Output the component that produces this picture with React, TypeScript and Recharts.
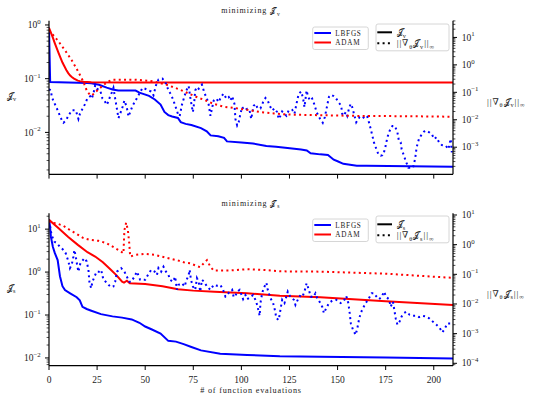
import React from 'react';
import { LineChart, Line, XAxis, YAxis, Legend } from 'recharts';

type P = [number, number];

// ---------- top panel: minimizing J_v ----------
const lbfgsJv: P[] = [[0,0.9],[0.6,0.087],[10,0.085],[20,0.083],[22,0.082],[26,0.077],[30,0.068],[33,0.063],[36,0.06],[45,0.06],[47,0.055],[52,0.048],[55,0.041],[58,0.033],[60,0.024],[62,0.021],[64,0.0198],[67,0.0186],[68.5,0.0155],[71,0.0144],[74,0.0137],[79,0.012],[82,0.0105],[84,0.0088],[88,0.0085],[91,0.0079],[92.5,0.0068],[100,0.0065],[106,0.0062],[113,0.0056],[118,0.0054],[124,0.0051],[131,0.0048],[134,0.0046],[136,0.0041],[141,0.0039],[145,0.0038],[148,0.0031],[150,0.0029],[153,0.0026],[160,0.0024],[165,0.0024],[210,0.0023]];
const adamJv: P[] = [[0,0.88],[1,0.72],[2,0.58],[3,0.46],[4,0.37],[5,0.3],[6,0.245],[7,0.2],[8,0.17],[9,0.145],[10,0.127],[11,0.114],[12,0.106],[13,0.1],[14,0.096],[15,0.092],[16,0.09],[18,0.088],[22,0.086],[40,0.085],[100,0.085],[210,0.085]];
const lbfgsGradJv: P[] = [[0,0.13],[1,0.117],[1.4,0.072],[2.2,0.05],[3.5,0.032],[4.9,0.019],[6.1,0.0115],[7.5,0.0078],[8.7,0.0093],[10.1,0.014],[11.8,0.022],[13.9,0.022],[14.8,0.014],[15.3,0.0107],[16.1,0.0166],[17.4,0.025],[18.8,0.038],[19.9,0.059],[21.4,0.072],[22.2,0.059],[23.1,0.089],[24,0.178],[24.8,0.135],[26.6,0.117],[27.8,0.059],[28.8,0.05],[30,0.035],[30.9,0.047],[31.8,0.072],[32.6,0.098],[33.5,0.145],[34.4,0.059],[35.3,0.025],[36.1,0.0115],[37,0.0166],[38.2,0.029],[39.2,0.05],[40.4,0.029],[41.3,0.0132],[42.2,0.019],[43.4,0.032],[44.8,0.047],[46.5,0.078],[48.6,0.145],[50,0.135],[51.7,0.117],[53.1,0.107],[54.3,0.078],[55.6,0.178],[56.9,0.29],[59,0.316],[60.8,0.21],[62.1,0.117],[63.5,0.081],[64.7,0.05],[66,0.027],[67,0.0166],[67.9,0.0135],[69.1,0.035],[70.3,0.068],[71.4,0.117],[72.6,0.17],[73.4,0.068],[74.3,0.029],[74.8,0.019],[75.5,0.044],[76,0.117],[76.9,0.155],[77.8,0.135],[78.6,0.155],[79.5,0.19],[80.4,0.117],[81.3,0.078],[82.1,0.059],[83,0.036],[83.9,0.014],[84.7,0.025],[85.6,0.05],[87,0.059],[88.2,0.044],[89.4,0.068],[90.8,0.089],[92.2,0.059],[93.4,0.068],[94.3,0.05],[95.2,0.072],[96.4,0.038],[96.9,0.0107],[97.8,0.0062],[98.6,0.0081],[99.5,0.0166],[100.4,0.029],[101.6,0.022],[103,0.025],[104.2,0.023],[105.1,0.0107],[105.6,0.0166],[106.4,0.032],[107.3,0.038],[108.5,0.026],[109.9,0.026],[111.3,0.044],[112.5,0.062],[113.7,0.05],[114.7,0.033],[116,0.022],[117.2,0.026],[118.6,0.019],[119.4,0.0107],[120.3,0.014],[121.2,0.02],[122.4,0.0166],[123.4,0.014],[124.6,0.022],[126.4,0.023],[127.6,0.0166],[129,0.05],[129.8,0.089],[131.1,0.107],[132.1,0.059],[132.8,0.029],[133.9,0.117],[134.5,0.078],[135.6,0.05],[136.8,0.059],[138,0.035],[139.1,0.019],[140.5,0.012],[142.3,0.0078],[143.4,0.0126],[144.6,0.033],[145.5,0.068],[146.7,0.081],[148.1,0.072],[149.3,0.059],[150.4,0.044],[151.6,0.035],[152.1,0.025],[152.4,0.0166],[153.3,0.014],[154.2,0.019],[155,0.014],[155.9,0.025],[156.8,0.038],[157.6,0.029],[158.5,0.0166],[159.7,0.0081],[161.5,0.0126],[162.9,0.0135],[164.2,0.0107],[165.5,0.0126],[166.3,0.0081],[167.2,0.0047],[168.1,0.0026],[168.9,0.0015],[169.8,0.001],[171.2,0.00056],[172.4,0.00049],[173.3,0.00051],[174.1,0.00065],[175,0.00112],[175.9,0.0023],[177.1,0.004],[178.5,0.0059],[179.8,0.0059],[181.1,0.0035],[181.9,0.0017],[182.8,0.0015],[183.3,0.00085],[184.5,0.00049],[185.4,0.00032],[186.8,0.00018],[188,0.00018],[189.2,0.00018],[190.3,0.00037],[191.1,0.001],[192.3,0.002],[193.8,0.003],[194.9,0.0037],[196.2,0.004],[197.6,0.0035],[199,0.003],[200.2,0.002],[201.4,0.0023],[202.8,0.0015],[204.2,0.0012],[206.3,0.00112],[207.6,0.00085],[208.8,0.002],[209.4,0.00065]];
const adamGradJv: P[] = [[0,18],[2,12.6],[4.9,7.2],[8.3,3.4],[11.8,1.48],[15.3,0.55],[17.9,0.24],[19.6,0.117],[21.4,0.078],[22.5,0.079],[24,0.1],[26.6,0.145],[30,0.23],[33,0.29],[44,0.29],[50,0.27],[54,0.25],[61,0.19],[68,0.126],[75,0.076],[78.6,0.06],[80.4,0.054],[85.5,0.038],[90.8,0.03],[97.8,0.026],[103,0.023],[110,0.019],[117,0.017],[124,0.0155],[138,0.0148],[160,0.0138],[185,0.0135],[210,0.0129]];

// ---------- bottom panel: minimizing J_s ----------
const lbfgsJs: P[] = [[0,17],[0.5,12],[1,6.6],[2,3.9],[3,2.8],[4.5,1.9],[5.7,0.8],[7,0.47],[8.3,0.38],[11,0.32],[14.4,0.26],[16,0.22],[17.4,0.155],[19.6,0.138],[22,0.126],[27,0.105],[33,0.093],[38,0.087],[43,0.079],[47,0.066],[50,0.054],[53.5,0.046],[58,0.037],[62,0.025],[66,0.024],[70,0.021],[74,0.018],[79,0.015],[89,0.0126],[103,0.0117],[120,0.011],[141,0.0107],[175,0.0102],[210,0.0097]];
const adamJs: P[] = [[0,16.5],[5,10.5],[10,6.6],[15,4.3],[20,2.9],[24,2.3],[28,1.7],[32,1.15],[35,0.85],[38,0.6],[39,0.57],[40.5,0.63],[42,0.55],[50,0.53],[59,0.47],[67,0.4],[75,0.37],[86,0.35],[103,0.32],[120,0.28],[141,0.26],[175,0.21],[210,0.17]];
const lbfgsGradJs: P[] = [[0,6.3],[0.5,4.6],[1,2.75],[1.7,1.86],[2.8,1.26],[4,1.12],[5.7,0.85],[7.5,0.66],[8.7,0.51],[10.1,0.27],[10.9,0.162],[11.8,0.21],[12.7,0.4],[13.2,0.66],[13.9,0.4],[14.6,0.21],[15.3,0.123],[16.3,0.234],[18.4,0.35],[19.6,0.27],[20.5,0.141],[21,0.056],[21.9,0.034],[22.6,0.056],[23.6,0.083],[24.8,0.123],[26,0.123],[27.1,0.141],[28.3,0.065],[29.5,0.056],[30.9,0.044],[32.3,0.037],[33.5,0.039],[34.4,0.056],[35.3,0.123],[37.5,0.162],[39.2,0.123],[40.5,0.083],[41.7,0.056],[42.7,0.056],[44.4,0.083],[45.7,0.123],[47.4,0.065],[50,0.065],[51.4,0.095],[53.1,0.141],[54.9,0.123],[56.1,0.095],[56.9,0.162],[58.3,0.123],[59.5,0.18],[60.8,0.123],[62.1,0.095],[63,0.065],[64.4,0.056],[65.6,0.083],[66.5,0.03],[67.3,0.044],[69.1,0.05],[70.5,0.039],[71.4,0.062],[72.6,0.095],[73.1,0.141],[73.8,0.065],[74.8,0.039],[76,0.03],[76.9,0.074],[77.8,0.056],[78.6,0.026],[79.5,0.065],[80.7,0.056],[82.1,0.039],[83.9,0.03],[85.6,0.044],[87.3,0.041],[89.1,0.044],[90.5,0.03],[91.7,0.0178],[92.5,0.02],[93.9,0.026],[95.2,0.03],[96,0.017],[96.9,0.0186],[97.8,0.026],[99.1,0.03],[100.9,0.0145],[102.1,0.02],[103,0.0145],[104.7,0.017],[106.1,0.02],[107.3,0.0138],[108.2,0.0093],[109,0.0055],[109.5,0.004],[109.9,0.0107],[110.8,0.023],[111.6,0.034],[113,0.052],[113.7,0.03],[115.1,0.0158],[116.5,0.0107],[117.4,0.0063],[118.2,0.0033],[119.4,0.0029],[120.3,0.0063],[121.2,0.0138],[122.4,0.0107],[123.4,0.0178],[124.1,0.026],[125.5,0.017],[127.3,0.0138],[128.1,0.0093],[129.3,0.0138],[130.4,0.0186],[131.6,0.017],[132.8,0.026],[133.9,0.05],[135.1,0.03],[136,0.0178],[137.3,0.017],[138.5,0.023],[139.4,0.0158],[140.6,0.012],[142,0.0081],[142.9,0.0049],[144.1,0.0072],[145.5,0.0107],[147.2,0.0129],[149.3,0.0138],[151.6,0.0107],[153.3,0.0129],[154.5,0.0186],[155.6,0.0107],[156.3,0.0049],[156.9,0.0022],[158,0.00135],[159.4,0.00091],[160.3,0.00155],[161.1,0.0029],[162,0.0049],[163.2,0.0072],[164.6,0.0107],[166,0.0145],[167.7,0.023],[168.9,0.023],[170.2,0.0178],[171.5,0.0145],[172.9,0.017],[174.1,0.026],[175.4,0.017],[176.7,0.0145],[177.6,0.0081],[178.8,0.012],[179.5,0.0063],[180.2,0.0033],[181.1,0.002],[182.3,0.0026],[183.3,0.0038],[184.5,0.0049],[185.8,0.0055],[187.5,0.0043],[189.2,0.004],[191,0.004],[192.3,0.0036],[194.1,0.004],[195.8,0.0038],[197.6,0.0033],[199.3,0.0026],[201.4,0.002],[203.1,0.00155],[204.5,0.0011],[205.9,0.00155],[207.1,0.0022],[208.8,0.0022]];
const adamGradJs: P[] = [[0,6.3],[1,5.5],[4,5.2],[7.5,4.3],[10.9,3.1],[14.4,2.3],[17.9,1.66],[21.4,1.45],[25.7,1.35],[30,1.12],[34.4,0.76],[37.5,0.58],[38.7,0.51],[39.2,3.1],[40.1,5.5],[41,3.1],[41.7,1.12],[42.2,0.4],[44.8,0.45],[50,0.49],[55.2,0.45],[62.1,0.35],[67.3,0.29],[70.8,0.245],[73.4,0.234],[76.9,0.19],[78.6,0.174],[80.4,0.234],[82.1,0.3],[83.9,0.18],[85.6,0.135],[94.3,0.135],[103,0.148],[111.6,0.141],[120.3,0.126],[141.1,0.123],[175,0.105],[195,0.087],[209.7,0.076]];

const xTicks = [0, 25, 50, 75, 100, 125, 150, 175, 200];
const methods = ['LBFGS', 'ADAM'];

const BLUE = '#0000ff';
const RED = '#ff0000';
const FONT = '"Liberation Serif", "DejaVu Serif", serif';
const TXT = '#1a1a1a';
const JHAT = '\u{1D4A5}\u0302';

const rows = (a: P[]) => a.map(([x, y]) => ({ x, y }));

function logTicks(lo: number, hi: number): number[] {
  const out: number[] = [];
  for (let e = Math.floor(Math.log10(lo)) - 1; e <= Math.ceil(Math.log10(hi)); e++) {
    for (let m = 1; m <= 9; m++) {
      const v = m * Math.pow(10, e);
      if (v >= lo && v <= hi) out.push(v);
    }
  }
  return out;
}

function decomp(v: number) {
  const e = Math.floor(Math.log10(v) + 1e-9);
  const major = Math.abs(v / Math.pow(10, e) - 1) < 1e-6;
  return { e, major };
}
const expStr = (e: number) => (e < 0 ? '\u2212' + -e : String(e));

const LeftTick = (props: any) => {
  const { x, y, payload } = props;
  const { e, major } = decomp(payload.value);
  return (
    <g>
      <line x1={x} x2={x - (major ? 4 : 2.4)} y1={y} y2={y} stroke="#000" strokeWidth={major ? 1 : 0.7} />
      {major && (
        <text x={x - 8.3} y={y + 3.2} textAnchor="end" fontFamily={FONT} fontSize={9.5} fill={TXT}>
          10<tspan dy={-4.2} fontSize={6.8}>{expStr(e)}</tspan>
        </text>
      )}
    </g>
  );
};

const RightTick = (props: any) => {
  const { x, y, payload } = props;
  const { e, major } = decomp(payload.value);
  return (
    <g>
      <line x1={x} x2={x + (major ? 4 : 2.4)} y1={y} y2={y} stroke="#000" strokeWidth={major ? 1 : 0.7} />
      {major && (
        <text x={x + 8.7} y={y + 3.2} textAnchor="start" fontFamily={FONT} fontSize={9.5} fill={TXT}>
          10<tspan dy={-4.2} fontSize={6.8}>{expStr(e)}</tspan>
        </text>
      )}
    </g>
  );
};

const makeXTick = (labels: boolean) => (props: any) => {
  const { x, y, payload } = props;
  return (
    <g>
      <line x1={x} x2={x} y1={y} y2={y + 4.3} stroke="#000" strokeWidth={1} />
      {labels && (
        <text x={x} y={y + 17} textAnchor="middle" fontFamily={FONT} fontSize={9.5} fill={TXT}>
          {payload.value}
        </text>
      )}
    </g>
  );
};

type Seg = { t: string; sub?: boolean };
function Segs({ s, fs }: { s: Seg[]; fs: number }) {
  let cur = 0;
  return (
    <>
      {s.map((g, i) => {
        const target = g.sub ? fs * 0.32 : 0;
        const dy = target - cur;
        cur = target;
        return (
          <tspan key={i} dy={dy} fontSize={g.sub ? fs * 0.7 : fs}>
            {g.t}
          </tspan>
        );
      })}
    </>
  );
}

const jSegs = (sub: string): Seg[] => [{ t: JHAT }, { t: sub, sub: true }];
const gradSegs = (sub: string): Seg[] => [
  { t: '||\u2207' },
  { t: '\u03B8', sub: true },
  { t: JHAT },
  { t: sub, sub: true },
  { t: '||' },
  { t: '\u221E', sub: true },
];

function LegendBoxes({ sub }: { sub: string }) {
  return (
    <svg width={142} height={32} style={{ display: 'block', overflow: 'visible' }}>
      <rect x={2.7} y={6} width={55.6} height={22.5} rx={2} fill="#fff" fillOpacity={0.8} stroke="#cccccc" strokeWidth={0.8} />
      <line x1={4.3} x2={21} y1={12} y2={12} stroke={BLUE} strokeWidth={2} />
      <text x={25.3} y={14.6} fontFamily={FONT} fontSize={7.2} letterSpacing={0.8} fill={TXT}>{methods[0]}</text>
      <line x1={4.3} x2={21} y1={21.5} y2={21.5} stroke={RED} strokeWidth={2} />
      <text x={25.3} y={24.1} fontFamily={FONT} fontSize={7.2} letterSpacing={0.8} fill={TXT}>{methods[1]}</text>

      <rect x={66} y={3} width={73} height={26.8} rx={2} fill="#fff" fillOpacity={0.8} stroke="#cccccc" strokeWidth={0.8} />
      <line x1={67.3} x2={82} y1={11.3} y2={11.3} stroke="#000" strokeWidth={2} />
      <text x={86.7} y={14} fontFamily={FONT} fontSize={9} fill={TXT}><Segs s={jSegs(sub)} fs={9} /></text>
      <line x1={67.3} x2={82} y1={22.3} y2={22.3} stroke="#000" strokeWidth={2} strokeDasharray="2 3.3" />
      <text x={86.7} y={25} fontFamily={FONT} fontSize={9} letterSpacing={0.9} fill={TXT}><Segs s={gradSegs(sub)} fs={9} /></text>
    </svg>
  );
}

type PanelProps = {
  sub: string;
  height: number;
  top: number;
  bottom: number;
  leftDomain: [number, number];
  rightDomain: [number, number];
  lbfgsJ: P[];
  adamJ: P[];
  lbfgsG: P[];
  adamG: P[];
  showXLabels: boolean;
};

function Panel(p: PanelProps) {
  const plotBottom = p.height - p.bottom;
  const xAxisH = p.showXLabels ? 20 : 10;
  const mid = (p.top + plotBottom) / 2;
  const title = (
    <text x={251} y={p.top - 7.5} textAnchor="middle" fontFamily={FONT} fontSize={8} letterSpacing={0.9} fill={TXT}>
      <tspan>minimizing </tspan>
      <Segs s={jSegs(p.sub)} fs={8} />
    </text>
  );
  return (
    <LineChart
      width={541}
      height={p.height}
      margin={{ top: p.top, right: 48, bottom: p.bottom - xAxisH, left: 20 }}
    >
      <XAxis
        xAxisId="top"
        orientation="top"
        type="number"
        domain={[0, 210]}
        allowDataOverflow
        height={0}
        tick={false}
        tickLine={false}
        axisLine={{ stroke: '#000', strokeWidth: 1.2 }}
      />
      <XAxis
        dataKey="x"
        type="number"
        domain={[0, 210]}
        allowDataOverflow
        ticks={xTicks}
        interval={0}
        height={xAxisH}
        tickSize={0}
        tickMargin={0}
        tickLine={false}
        tick={makeXTick(p.showXLabels)}
        axisLine={{ stroke: '#000', strokeWidth: 1.2 }}
        label={{
          content: () => (
            <g>
              {title}
              {p.showXLabels && (
                <text x={251} y={plotBottom + 27.3} textAnchor="middle" fontFamily={FONT} fontSize={8.2} letterSpacing={0.8} fill={TXT}>
                  # of function evaluations
                </text>
              )}
            </g>
          ),
        }}
      />
      <YAxis
        yAxisId="left"
        orientation="left"
        type="number"
        scale="log"
        domain={p.leftDomain}
        allowDataOverflow
        ticks={logTicks(p.leftDomain[0], p.leftDomain[1])}
        interval={0}
        width={29}
        tickSize={0}
        tickMargin={0}
        tickLine={false}
        tick={<LeftTick />}
        axisLine={{ stroke: '#000', strokeWidth: 1.2 }}
        label={{
          content: () => (
            <text x={7} y={mid + 1} fontFamily={FONT} fontSize={9} fill={TXT}>
              <Segs s={jSegs(p.sub)} fs={9} />
            </text>
          ),
        }}
      />
      <YAxis
        yAxisId="right"
        orientation="right"
        type="number"
        scale="log"
        domain={p.rightDomain}
        allowDataOverflow
        ticks={logTicks(p.rightDomain[0], p.rightDomain[1])}
        interval={0}
        width={40}
        tickSize={0}
        tickMargin={0}
        tickLine={false}
        tick={<RightTick />}
        axisLine={{ stroke: '#000', strokeWidth: 1.2 }}
        label={{
          content: () => (
            <text x={487} y={mid + 7} fontFamily={FONT} fontSize={9} letterSpacing={0.9} fill={TXT}>
              <Segs s={gradSegs(p.sub)} fs={9} />
            </text>
          ),
        }}
      />
      <Line yAxisId="left" data={rows(p.lbfgsJ)} dataKey="y" stroke={BLUE} strokeWidth={2} dot={false} activeDot={false} isAnimationActive={false} />
      <Line yAxisId="left" data={rows(p.adamJ)} dataKey="y" stroke={RED} strokeWidth={2} dot={false} activeDot={false} isAnimationActive={false} />
      <Line yAxisId="right" data={rows(p.lbfgsG)} dataKey="y" stroke={BLUE} strokeWidth={2} strokeDasharray="2 3.3" dot={false} activeDot={false} isAnimationActive={false} />
      <Line yAxisId="right" data={rows(p.adamG)} dataKey="y" stroke={RED} strokeWidth={2} strokeDasharray="2 3.3" dot={false} activeDot={false} isAnimationActive={false} />
      <Legend
        layout="horizontal"
        verticalAlign="middle"
        align="center"
        wrapperStyle={{ position: 'absolute', left: 310, top: p.top, width: 142, height: 32 }}
        content={() => <LegendBoxes sub={p.sub} />}
      />
    </LineChart>
  );
}

export default function App() {
  return (
    <div style={{ position: 'absolute', left: 0, top: 0, width: 541, height: 401, background: '#fff' }}>
      <div style={{ position: 'absolute', left: 0, top: 0 }}>
        <Panel
          sub="v"
          height={190}
          top={20.7}
          bottom={15.7}
          leftDomain={[0.00166, 1.2]}
          rightDomain={[0.000103, 40.7]}
          lbfgsJ={lbfgsJv}
          adamJ={adamJv}
          lbfgsG={lbfgsGradJv}
          adamG={adamGradJv}
          showXLabels={false}
        />
      </div>
      <div style={{ position: 'absolute', left: 0, top: 200 }}>
        <Panel
          sub="s"
          height={201}
          top={13.3}
          bottom={35.3}
          leftDomain={[0.0066, 23.4]}
          rightDomain={[0.000083, 11.4]}
          lbfgsJ={lbfgsJs}
          adamJ={adamJs}
          lbfgsG={lbfgsGradJs}
          adamG={adamGradJs}
          showXLabels={true}
        />
      </div>
    </div>
  );
}
